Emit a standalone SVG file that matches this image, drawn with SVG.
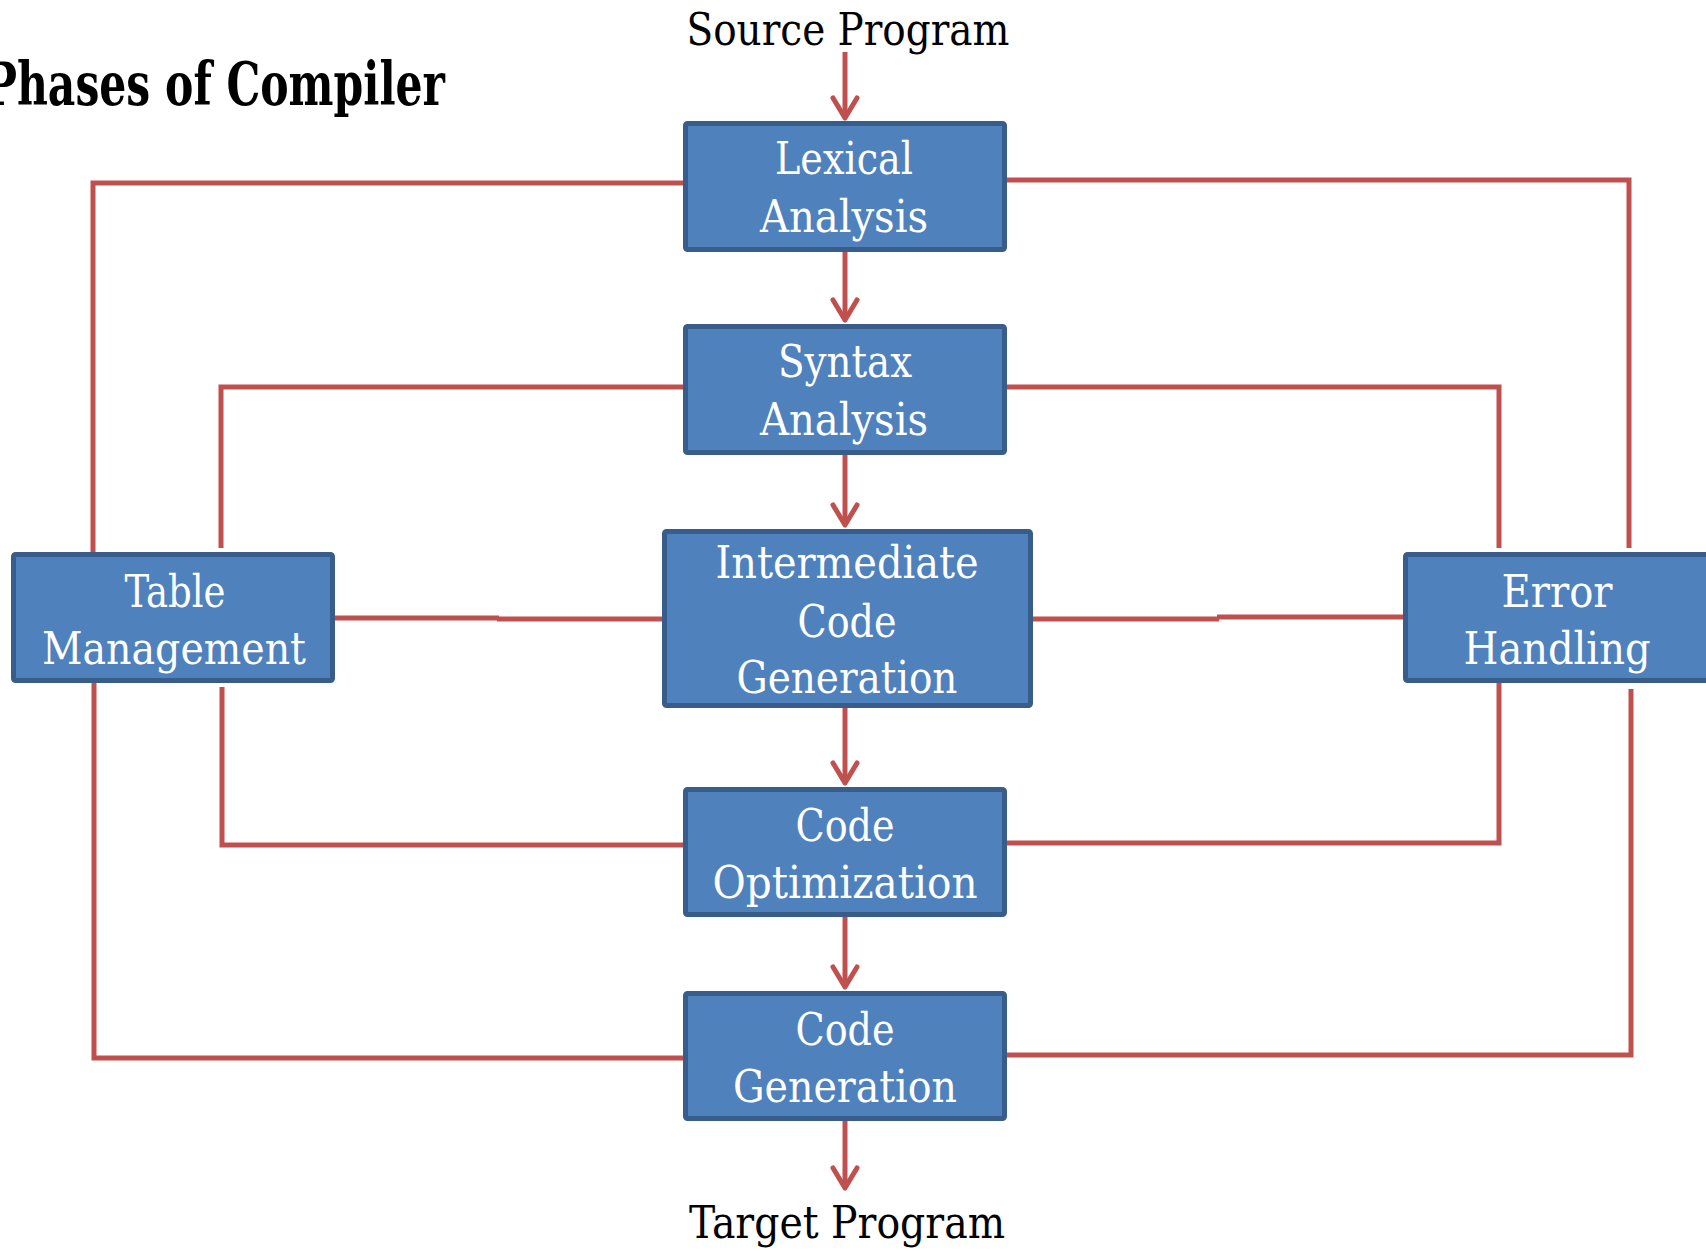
<svg xmlns="http://www.w3.org/2000/svg" width="1706" height="1251" viewBox="0 0 1706 1251">
<style>
.box{fill:#4F81BD;stroke:#385D8A;stroke-width:5}
.bt{font-family:"DejaVu Serif Condensed","DejaVu Serif",serif;font-stretch:condensed;font-size:44px;fill:#FFFFFF;text-anchor:middle}
.lbl{font-family:"DejaVu Serif Condensed","DejaVu Serif",serif;font-stretch:condensed;font-size:44px;fill:#000000;text-anchor:middle}
.title{font-family:"DejaVu Serif Condensed","DejaVu Serif",serif;font-stretch:condensed;font-weight:bold;font-size:59px;fill:#000000}
.ln{fill:none;stroke:#C0504D;stroke-width:5}
.ar{fill:none;stroke:#C0504D;stroke-width:5;marker-end:url(#chev)}
</style>
<defs>
<marker id="chev" markerUnits="userSpaceOnUse" orient="auto" refX="0" refY="0" markerWidth="30" markerHeight="30" viewBox="-25 -15 30 30" overflow="visible">
<path d="M-20,-12 L0,0 L-20,12" fill="none" stroke="#C0504D" stroke-width="5" stroke-linecap="round" stroke-linejoin="round"/>
</marker>
</defs>
<rect width="1706" height="1251" fill="#FFFFFF"/>
<text class="title" x="-15" y="105" textLength="460" lengthAdjust="spacingAndGlyphs">Phases of Compiler</text>
<text class="lbl" x="848" y="45" textLength="323" lengthAdjust="spacingAndGlyphs">Source Program</text>
<text class="lbl" x="847" y="1238" textLength="316" lengthAdjust="spacingAndGlyphs">Target Program</text>
<g id="connectors">
<line class="ar" x1="845" y1="52" x2="845" y2="118"/>
<line class="ar" x1="845" y1="252" x2="845" y2="320"/>
<line class="ar" x1="845" y1="455" x2="845" y2="525"/>
<line class="ar" x1="845" y1="708" x2="845" y2="783"/>
<line class="ar" x1="845" y1="917" x2="845" y2="987"/>
<line class="ar" x1="845" y1="1121" x2="845" y2="1188"/>
<polyline class="ln" points="683,183 93,183 93,552"/>
<polyline class="ln" points="94,683 94,1058 683,1058"/>
<polyline class="ln" points="683,387 221,387 221,548"/>
<polyline class="ln" points="222,687 222,845 683,845"/>
<polyline class="ln" points="1007,180 1629,180 1629,548"/>
<polyline class="ln" points="1631,689 1631,1055 1007,1055"/>
<polyline class="ln" points="1007,387 1499,387 1499,548"/>
<polyline class="ln" points="1499,683 1499,843 1003,843"/>
<line class="ln" x1="335" y1="618" x2="499" y2="618"/>
<line class="ln" x1="497" y1="619" x2="662" y2="619"/>
<line class="ln" x1="1032" y1="619" x2="1219" y2="619"/>
<line class="ln" x1="1217" y1="617" x2="1403" y2="617"/>
</g>
<g id="lexical">
<rect class="box" x="685.5" y="123.5" width="319" height="126" rx="2"/>
<text class="bt" x="844" y="174" textLength="138" lengthAdjust="spacingAndGlyphs">Lexical</text>
<text class="bt" x="844" y="232" textLength="168" lengthAdjust="spacingAndGlyphs">Analysis</text>
</g>
<g id="syntax">
<rect class="box" x="685.5" y="326.5" width="319" height="126" rx="2"/>
<text class="bt" x="845" y="377" textLength="134" lengthAdjust="spacingAndGlyphs">Syntax</text>
<text class="bt" x="844" y="435" textLength="168" lengthAdjust="spacingAndGlyphs">Analysis</text>
</g>
<g id="intermediate">
<rect class="box" x="664.5" y="531.5" width="366" height="174" rx="2"/>
<text class="bt" x="847" y="578" textLength="263" lengthAdjust="spacingAndGlyphs">Intermediate</text>
<text class="bt" x="847" y="637" textLength="99" lengthAdjust="spacingAndGlyphs">Code</text>
<text class="bt" x="847" y="693" textLength="221" lengthAdjust="spacingAndGlyphs">Generation</text>
</g>
<g id="code-optimization">
<rect class="box" x="685.5" y="789.5" width="319" height="125" rx="2"/>
<text class="bt" x="845" y="841" textLength="99" lengthAdjust="spacingAndGlyphs">Code</text>
<text class="bt" x="845" y="898" textLength="265" lengthAdjust="spacingAndGlyphs">Optimization</text>
</g>
<g id="code-generation">
<rect class="box" x="685.5" y="993.5" width="319" height="125" rx="2"/>
<text class="bt" x="845" y="1045" textLength="99" lengthAdjust="spacingAndGlyphs">Code</text>
<text class="bt" x="845" y="1102" textLength="224" lengthAdjust="spacingAndGlyphs">Generation</text>
</g>
<g id="table-management">
<rect class="box" x="13.5" y="554.5" width="319" height="126" rx="2"/>
<text class="bt" x="175" y="607" textLength="101" lengthAdjust="spacingAndGlyphs">Table</text>
<text class="bt" x="174" y="664" textLength="264" lengthAdjust="spacingAndGlyphs">Management</text>
</g>
<g id="error-handling">
<rect class="box" x="1405.5" y="554.5" width="319" height="126" rx="2"/>
<text class="bt" x="1557" y="607" textLength="111" lengthAdjust="spacingAndGlyphs">Error</text>
<text class="bt" x="1557" y="664" textLength="187" lengthAdjust="spacingAndGlyphs">Handling</text>
</g>
</svg>
